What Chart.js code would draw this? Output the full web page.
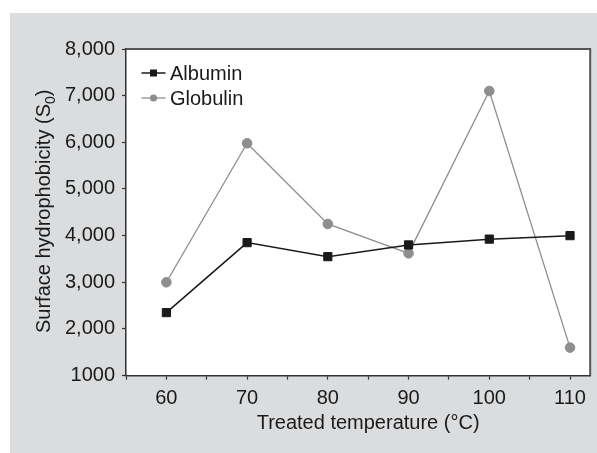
<!DOCTYPE html>
<html>
<head>
<meta charset="utf-8">
<script src="https://cdn.jsdelivr.net/npm/chart.js@4.4.1/dist/chart.umd.min.js"></script>
<style>
  html, body { margin: 0; padding: 0; background: #fff; }
  #wrap { width: 597px; height: 453px; }
</style>
</head>
<body>
<div id="wrap"><canvas id="chart" width="597" height="453"></canvas></div>
<script>
// temperature (°C) and surface hydrophobicity values
const temps = [60, 70, 80, 90, 100, 110];
const albumin = [2350, 3850, 3550, 3800, 3925, 4000];
const globulin = [3000, 5980, 4250, 3620, 7100, 1600];
const seriesNames = ["Albumin", "Globulin"];

const yTickValues = [1000, 2000, 3000, 4000, 5000, 6000, 7000, 8000];
const yTickLabels = ["1000", "2,000", "3,000", "4,000", "5,000", "6,000", "7,000", "8,000"];
const xTitle = "Treated temperature (°C)";
const yTitleParts = ["Surface hydrophobicity (S", "0", ")"];

const FONT = "'Liberation Sans', Arial, sans-serif";
const TEXT = "#1a1a1a";
Chart.defaults.font.family = FONT;
Chart.defaults.font.size = 20;
Chart.defaults.color = TEXT;

const seriesStyle = [
  { color: "#1a1a1a", point: "rect", radius: 5.8, width: 1.5 },
  { color: "#8e8e8e", point: "circle", radius: 4.8, width: 1.3 }
];

function toPoints(values) {
  return temps.map((t, i) => ({ x: t, y: values[i] }));
}

// background panel, frame, legend and axis titles
const decor = {
  id: "decor",
  beforeDraw(chart) {
    const ctx = chart.ctx;
    const a = chart.chartArea;
    ctx.save();
    ctx.fillStyle = "#fff";
    ctx.fillRect(0, 0, chart.width, chart.height);
    ctx.fillStyle = "#dbdcde";
    ctx.fillRect(10, 13, chart.width - 10, chart.height - 13);
    ctx.fillStyle = "#fff";
    ctx.fillRect(a.left, a.top, a.right - a.left, a.bottom - a.top);
    ctx.restore();
  },
  afterDraw(chart) {
    const ctx = chart.ctx;
    const a = chart.chartArea;
    ctx.save();

    // top and right edges of the box
    ctx.strokeStyle = "#555";
    ctx.lineWidth = 2;
    ctx.beginPath();
    ctx.moveTo(a.left, a.top);
    ctx.lineTo(a.right, a.top);
    ctx.lineTo(a.right, a.bottom);
    ctx.stroke();

    // legend
    chart.data.datasets.forEach((ds, i) => {
      const st = seriesStyle[i];
      const y = a.top + 24 + i * 25;
      const x0 = a.left + 15.5;
      const x1 = a.left + 39.5;
      const cx = (x0 + x1) / 2;
      ctx.strokeStyle = st.color;
      ctx.lineWidth = st.width;
      ctx.beginPath();
      ctx.moveTo(x0, y);
      ctx.lineTo(x1, y);
      ctx.stroke();
      ctx.fillStyle = st.color;
      if (st.point === "rect") {
        ctx.fillRect(cx - 3.5, y - 3.5, 7, 7);
      } else {
        ctx.beginPath();
        ctx.arc(cx, y, 3.6, 0, Math.PI * 2);
        ctx.fill();
      }
      ctx.fillStyle = TEXT;
      ctx.font = "20px " + FONT;
      ctx.textAlign = "left";
      ctx.textBaseline = "middle";
      ctx.fillText(ds.label, a.left + 44, y + 1);
    });

    // x axis title
    ctx.fillStyle = TEXT;
    ctx.font = "20px " + FONT;
    ctx.textAlign = "center";
    ctx.textBaseline = "alphabetic";
    ctx.fillText(xTitle, (a.left + a.right) / 2 + 10, 429);

    // y axis title with subscript
    const big = "20px " + FONT;
    const small = "14px " + FONT;
    ctx.font = big;
    const w0 = ctx.measureText(yTitleParts[0]).width;
    const w2 = ctx.measureText(yTitleParts[2]).width;
    ctx.font = small;
    const w1 = ctx.measureText(yTitleParts[1]).width;
    const total = w0 + w1 + w2;
    ctx.translate(50, (a.top + a.bottom) / 2 - 1);
    ctx.rotate(-Math.PI / 2);
    ctx.textAlign = "left";
    let x = -total / 2;
    ctx.font = big;
    ctx.fillText(yTitleParts[0], x, 0);
    x += w0;
    ctx.font = small;
    ctx.fillText(yTitleParts[1], x, 5);
    x += w1;
    ctx.font = big;
    ctx.fillText(yTitleParts[2], x, 0);

    ctx.restore();
  }
};

new Chart(document.getElementById("chart").getContext("2d"), {
  type: "line",
  data: {
    datasets: [
      {
        label: seriesNames[0],
        data: toPoints(albumin),
        borderColor: seriesStyle[0].color,
        backgroundColor: seriesStyle[0].color,
        borderWidth: seriesStyle[0].width,
        pointStyle: seriesStyle[0].point,
        pointRadius: seriesStyle[0].radius,
        pointBorderWidth: 1,
        tension: 0
      },
      {
        label: seriesNames[1],
        data: toPoints(globulin),
        borderColor: seriesStyle[1].color,
        backgroundColor: seriesStyle[1].color,
        borderWidth: seriesStyle[1].width,
        pointStyle: seriesStyle[1].point,
        pointRadius: seriesStyle[1].radius,
        pointBorderWidth: 1,
        tension: 0
      }
    ]
  },
  options: {
    responsive: false,
    devicePixelRatio: 1,
    animation: false,
    layout: { padding: { top: 49, right: 3.5, left: 0, bottom: 0 } },
    plugins: {
      legend: { display: false },
      tooltip: { enabled: false }
    },
    scales: {
      x: {
        type: "linear",
        min: 55,
        max: 112.5,
        afterBuildTicks: (scale) => {
          const ticks = [];
          for (let v = 55; v <= 110; v += 5) ticks.push({ value: v });
          scale.ticks = ticks;
        },
        afterFit: (scale) => { scale.height = 77.4; },
        ticks: {
          autoSkip: false,
          maxRotation: 0,
          padding: 7,
          color: TEXT,
          callback: (v) => (temps.includes(v) ? String(v) : "")
        },
        grid: {
          drawOnChartArea: false,
          drawTicks: true,
          tickLength: 4,
          tickColor: "#333",
          tickWidth: 1.2
        },
        border: { color: "#333", width: 1.5 }
      },
      y: {
        min: 1000,
        max: 8000,
        afterFit: (scale) => { scale.width = 126; },
        ticks: {
          stepSize: 500,
          padding: 7,
          color: TEXT,
          callback: (v) => {
            const i = yTickValues.indexOf(v);
            return i >= 0 ? yTickLabels[i] : "";
          }
        },
        grid: {
          drawOnChartArea: false,
          drawTicks: true,
          tickLength: 4,
          tickColor: "#333",
          tickWidth: 1.2
        },
        border: { color: "#333", width: 1.5 }
      }
    }
  },
  plugins: [decor]
});
</script>
</body>
</html>
